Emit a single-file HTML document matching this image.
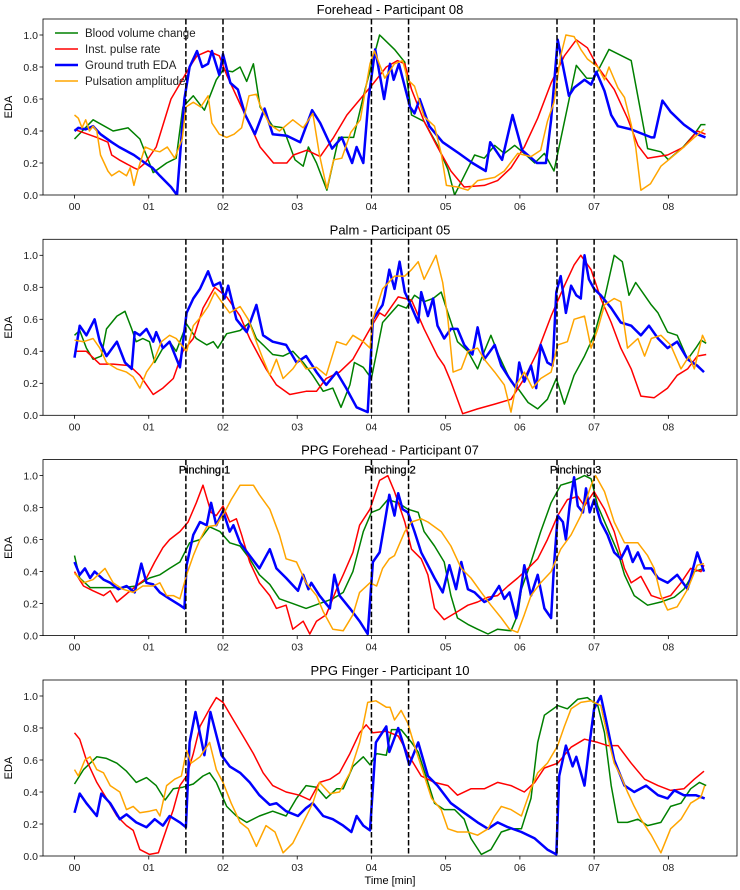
<!DOCTYPE html>
<html><head><meta charset="utf-8">
<style>
body{margin:0;background:#fff;}
svg{display:block;font-family:"Liberation Sans","DejaVu Sans",sans-serif;}
</style></head>
<body>
<svg id="fig" width="740" height="890" viewBox="0 0 740 890" xmlns="http://www.w3.org/2000/svg"></svg>
<script>
// ---------- Data (time in minutes, normalized EDA values) ----------
const xTicks = [0,1,2,3,4,5,6,7,8];
const xTickLabels = ["00","01","02","03","04","05","06","07","08"];
const yTicks = [0,0.2,0.4,0.6,0.8,1.0];
const yTickLabels = ["0.0","0.2","0.4","0.6","0.8","1.0"];
const pinchLines = [1.5,2,4,4.5,6.5,7];
const pinchLabelTimes = [1.75,4.25,6.75];
const pinchLabels = ["Pinching 1","Pinching 2","Pinching 3"];
const panelTitles = ["Forehead - Participant 08","Palm - Participant 05","PPG Forehead - Participant 07","PPG Finger - Participant 10"];
const seriesNames = ["Blood volume change","Inst. pulse rate","Ground truth EDA","Pulsation amplitude"];

// Panel 1
const p1GreenT=[0,0.25,0.52,0.72,0.88,1.06,1.24,1.37,1.46,1.6,1.75,1.91,2.0,2.13,2.23,2.32,2.41,2.5,2.67,2.81,2.97,3.08,3.15,3.26,3.4,3.56,3.76,3.92,4.11,4.31,4.45,4.54,4.71,4.89,5.03,5.12,5.25,5.39,5.52,5.66,5.79,5.93,6.06,6.2,6.33,6.46,6.76,6.9,7.0,7.2,7.5,7.72,7.9,8.0,8.2,8.35,8.44,8.5];
const p1GreenV=[0.35,0.47,0.40,0.42,0.35,0.14,0.20,0.23,0.55,0.62,0.53,0.72,0.78,0.77,0.80,0.71,0.82,0.55,0.43,0.42,0.22,0.18,0.30,0.20,0.03,0.36,0.36,0.67,1.0,0.91,0.83,0.5,0.46,0.31,0.16,0.0,0.12,0.25,0.23,0.31,0.26,0.31,0.26,0.2,0.26,0.15,0.81,0.73,0.73,0.91,0.84,0.29,0.27,0.22,0.3,0.38,0.44,0.44];
const p1RedT=[0,0.3,0.45,0.5,0.6,0.8,0.85,0.95,1.1,1.2,1.3,1.4,1.55,1.65,1.8,1.95,2.05,2.2,2.35,2.5,2.59,2.68,2.86,2.95,3.13,3.31,3.49,3.67,3.85,4.03,4.2,4.35,4.45,4.54,4.71,4.89,5.07,5.25,5.52,5.7,5.88,6.06,6.24,6.42,6.6,6.76,6.91,7.05,7.27,7.45,7.59,7.72,7.99,8.21,8.39,8.5];
const p1RedV=[0.41,0.36,0.33,0.25,0.22,0.17,0.16,0.2,0.3,0.45,0.6,0.68,0.8,0.87,0.9,0.87,0.75,0.6,0.45,0.3,0.25,0.2,0.2,0.25,0.28,0.24,0.36,0.5,0.6,0.7,0.8,0.84,0.82,0.66,0.46,0.3,0.15,0.05,0.06,0.09,0.17,0.3,0.48,0.7,0.87,0.97,0.92,0.8,0.66,0.48,0.31,0.23,0.25,0.3,0.4,0.38];
const p1BlueT=[0,0.05,0.15,0.25,0.35,0.5,0.6,0.8,0.95,1.05,1.15,1.3,1.38,1.48,1.55,1.65,1.72,1.8,1.85,1.95,2.0,2.1,2.2,2.3,2.43,2.56,2.67,2.86,3.04,3.2,3.31,3.47,3.6,3.74,3.8,3.89,3.96,4.05,4.17,4.25,4.3,4.37,4.52,4.58,4.65,4.78,4.96,5.18,5.36,5.54,5.6,5.76,5.9,6.03,6.23,6.35,6.42,6.51,6.66,6.73,6.87,6.96,7.03,7.14,7.23,7.32,7.5,7.77,7.81,7.92,8.03,8.21,8.39,8.5];
const p1BlueV=[0.40,0.42,0.41,0.43,0.38,0.33,0.30,0.25,0.2,0.17,0.12,0.05,0.0,0.6,0.8,0.9,0.8,0.82,0.9,0.75,0.88,0.7,0.66,0.5,0.38,0.54,0.38,0.37,0.33,0.53,0.45,0.29,0.36,0.2,0.3,0.2,0.6,0.91,0.6,0.82,0.72,0.82,0.55,0.51,0.6,0.43,0.33,0.26,0.2,0.15,0.33,0.22,0.5,0.28,0.2,0.2,0.47,0.97,0.62,0.67,0.72,0.69,0.77,0.65,0.5,0.43,0.41,0.36,0.36,0.59,0.52,0.44,0.38,0.36];
const p1OrangeT=[0,0.05,0.1,0.15,0.2,0.25,0.3,0.35,0.45,0.5,0.6,0.7,0.75,0.8,0.85,0.95,1.05,1.15,1.25,1.35,1.45,1.5,1.6,1.7,1.8,1.85,1.95,2.05,2.15,2.25,2.35,2.45,2.5,2.63,2.76,2.94,3.08,3.21,3.3,3.4,3.49,3.6,3.72,3.85,3.98,4.04,4.18,4.31,4.42,4.49,4.58,4.71,4.85,4.94,5.01,5.16,5.3,5.43,5.66,5.79,5.97,6.15,6.28,6.37,6.46,6.55,6.62,6.73,6.82,6.91,7.05,7.14,7.2,7.32,7.41,7.5,7.56,7.63,7.76,7.9,8.03,8.21,8.35,8.48];
const p1OrangeV=[0.5,0.48,0.42,0.47,0.4,0.43,0.4,0.25,0.15,0.12,0.15,0.12,0.17,0.06,0.15,0.3,0.28,0.27,0.3,0.23,0.35,0.55,0.58,0.55,0.62,0.45,0.38,0.36,0.38,0.42,0.62,0.63,0.56,0.44,0.4,0.47,0.42,0.51,0.25,0.04,0.22,0.23,0.39,0.47,0.82,0.9,0.73,0.82,0.84,0.72,0.68,0.49,0.43,0.26,0.06,0.05,0.03,0.09,0.11,0.15,0.26,0.24,0.28,0.46,0.58,0.87,1.0,0.99,0.91,0.85,0.8,0.72,0.8,0.67,0.61,0.44,0.3,0.03,0.07,0.18,0.23,0.3,0.36,0.41];

// Panel 2
const p2GreenT=[0,0.07,0.16,0.25,0.36,0.43,0.57,0.68,0.77,0.83,0.92,1.01,1.08,1.19,1.28,1.37,1.51,1.64,1.78,1.87,1.93,2.05,2.23,2.36,2.45,2.54,2.67,2.81,2.94,3.08,3.21,3.35,3.48,3.59,3.71,3.77,3.89,4.0,4.15,4.36,4.47,4.58,4.71,4.83,4.94,5.03,5.16,5.3,5.43,5.52,5.61,5.72,5.88,5.97,6.11,6.24,6.37,6.49,6.6,6.73,6.87,7.0,7.14,7.27,7.38,7.47,7.56,7.68,7.77,7.86,7.99,8.12,8.26,8.37,8.44,8.51];
const p2GreenV=[0.5,0.53,0.42,0.35,0.37,0.54,0.62,0.65,0.54,0.46,0.48,0.46,0.33,0.42,0.46,0.4,0.57,0.48,0.44,0.46,0.42,0.51,0.53,0.58,0.48,0.44,0.38,0.37,0.4,0.33,0.25,0.15,0.17,0.05,0.19,0.33,0.3,0.23,0.58,0.69,0.67,0.75,0.71,0.73,0.77,0.64,0.46,0.4,0.29,0.4,0.5,0.37,0.21,0.17,0.08,0.04,0.1,0.23,0.07,0.25,0.37,0.5,0.73,1.0,0.96,0.75,0.83,0.75,0.69,0.64,0.52,0.5,0.35,0.42,0.47,0.45];
const p2RedT=[0,0.16,0.34,0.52,0.74,0.88,1.06,1.19,1.33,1.46,1.6,1.73,1.89,2.05,2.23,2.36,2.58,2.72,2.9,3.12,3.26,3.39,3.57,3.75,3.98,4.11,4.18,4.36,4.54,4.71,4.89,4.98,5.07,5.23,5.43,5.66,5.88,6.06,6.24,6.42,6.6,6.73,6.82,6.96,7.09,7.23,7.36,7.5,7.63,7.81,7.99,8.12,8.26,8.39,8.51];
const p2RedV=[0.4,0.4,0.32,0.32,0.31,0.25,0.13,0.17,0.23,0.4,0.48,0.67,0.8,0.74,0.62,0.48,0.29,0.19,0.13,0.15,0.15,0.23,0.27,0.35,0.54,0.64,0.62,0.74,0.72,0.54,0.37,0.31,0.21,0.01,0.04,0.07,0.1,0.23,0.4,0.62,0.81,0.94,1.0,0.91,0.73,0.58,0.42,0.29,0.12,0.11,0.17,0.25,0.29,0.37,0.38];
const p2BlueT=[0,0.07,0.16,0.27,0.34,0.43,0.57,0.68,0.77,0.81,0.88,0.97,1.06,1.1,1.19,1.28,1.42,1.51,1.6,1.69,1.8,1.87,1.96,2.02,2.07,2.18,2.32,2.45,2.54,2.67,2.85,2.99,3.12,3.26,3.39,3.53,3.66,3.8,3.95,4.02,4.15,4.18,4.24,4.31,4.38,4.45,4.51,4.63,4.67,4.76,4.83,4.89,4.98,5.07,5.16,5.25,5.36,5.43,5.52,5.66,5.75,5.86,5.95,5.99,6.06,6.15,6.22,6.28,6.37,6.44,6.49,6.55,6.62,6.69,6.76,6.82,6.87,6.93,7.0,7.09,7.23,7.36,7.5,7.63,7.74,7.86,7.99,8.12,8.26,8.39,8.48];
const p2BlueV=[0.36,0.56,0.5,0.6,0.46,0.37,0.46,0.33,0.29,0.52,0.5,0.54,0.46,0.52,0.42,0.46,0.3,0.64,0.73,0.79,0.9,0.81,0.83,0.73,0.81,0.6,0.52,0.69,0.5,0.46,0.44,0.33,0.37,0.27,0.19,0.27,0.17,0.05,0.02,0.6,0.69,0.75,0.91,0.79,0.96,0.77,0.71,0.58,0.77,0.62,0.73,0.56,0.48,0.54,0.54,0.44,0.38,0.55,0.35,0.44,0.31,0.23,0.17,0.33,0.21,0.31,0.17,0.44,0.33,0.31,0.77,0.87,0.64,0.81,0.75,0.73,1.0,0.85,0.79,0.75,0.67,0.58,0.56,0.5,0.56,0.48,0.42,0.46,0.35,0.31,0.27];
const p2OrangeT=[0,0.12,0.25,0.34,0.43,0.57,0.7,0.79,0.88,0.97,1.06,1.17,1.28,1.37,1.51,1.6,1.71,1.8,1.89,1.98,2.09,2.23,2.34,2.45,2.54,2.63,2.72,2.81,2.94,3.03,3.12,3.26,3.39,3.53,3.66,3.75,3.89,3.98,4.02,4.15,4.31,4.45,4.54,4.63,4.71,4.87,4.96,5.03,5.1,5.21,5.3,5.43,5.52,5.66,5.79,5.88,5.95,6.06,6.17,6.28,6.42,6.51,6.64,6.73,6.87,6.96,7.05,7.14,7.27,7.36,7.45,7.59,7.68,7.77,7.9,8.03,8.17,8.28,8.35,8.46,8.5];
const p2OrangeV=[0.47,0.46,0.48,0.42,0.33,0.29,0.27,0.24,0.17,0.27,0.33,0.46,0.5,0.48,0.4,0.56,0.62,0.68,0.77,0.71,0.64,0.68,0.6,0.46,0.35,0.25,0.35,0.23,0.29,0.35,0.29,0.3,0.25,0.46,0.44,0.5,0.46,0.42,0.6,0.79,0.87,0.87,0.91,0.96,0.85,1.0,0.83,0.6,0.27,0.29,0.4,0.42,0.35,0.27,0.19,0.02,0.19,0.27,0.17,0.23,0.27,0.44,0.46,0.6,0.62,0.42,0.54,0.69,0.73,0.71,0.42,0.48,0.37,0.48,0.5,0.44,0.29,0.37,0.29,0.5,0.46];

// Panel 3
const p3GreenT=[0,0.07,0.21,0.43,0.65,0.83,1.01,1.15,1.28,1.42,1.55,1.69,1.82,1.96,2.09,2.23,2.36,2.49,2.63,2.76,2.94,3.12,3.3,3.48,3.62,3.75,3.89,4.0,4.11,4.22,4.36,4.49,4.63,4.71,4.85,4.98,5.07,5.16,5.3,5.43,5.57,5.7,5.88,5.97,6.02,6.15,6.28,6.42,6.55,6.69,6.87,6.96,7.05,7.18,7.32,7.41,7.54,7.72,7.9,8.08,8.21,8.35,8.48];
const p3GreenV=[0.5,0.36,0.3,0.3,0.3,0.31,0.36,0.38,0.42,0.46,0.58,0.6,0.68,0.65,0.58,0.56,0.48,0.38,0.32,0.23,0.2,0.17,0.2,0.23,0.27,0.4,0.65,0.77,0.79,0.85,0.83,0.79,0.77,0.65,0.56,0.46,0.25,0.11,0.07,0.04,0.01,0.04,0.03,0.13,0.29,0.46,0.65,0.83,0.94,0.96,1.0,0.98,0.81,0.67,0.52,0.38,0.25,0.19,0.21,0.24,0.29,0.4,0.42];
const p3RedT=[0,0.12,0.25,0.39,0.48,0.57,0.7,0.83,0.97,1.08,1.19,1.28,1.42,1.53,1.64,1.73,1.84,1.91,2.0,2.09,2.18,2.25,2.36,2.49,2.63,2.72,2.85,2.94,3.08,3.17,3.26,3.39,3.53,3.62,3.75,3.84,3.98,4.11,4.22,4.31,4.45,4.54,4.67,4.76,4.85,4.98,5.16,5.3,5.43,5.57,5.7,5.84,5.97,6.11,6.24,6.37,6.51,6.64,6.78,6.87,7.0,7.14,7.27,7.41,7.5,7.63,7.77,7.9,8.03,8.17,8.3,8.44,8.48];
const p3RedV=[0.4,0.31,0.28,0.25,0.28,0.21,0.26,0.31,0.36,0.46,0.55,0.6,0.65,0.71,0.83,0.94,0.77,0.75,0.81,0.71,0.73,0.63,0.46,0.33,0.25,0.17,0.19,0.04,0.09,0.01,0.09,0.13,0.29,0.38,0.52,0.69,0.79,0.97,1.0,0.9,0.71,0.54,0.48,0.38,0.17,0.1,0.15,0.19,0.21,0.24,0.25,0.31,0.36,0.42,0.48,0.6,0.75,0.85,0.87,0.81,0.9,0.79,0.65,0.42,0.33,0.37,0.25,0.23,0.25,0.33,0.42,0.4,0.44];
const p3BlueT=[0,0.07,0.14,0.21,0.27,0.39,0.48,0.59,0.7,0.81,0.9,0.97,1.06,1.15,1.28,1.42,1.48,1.51,1.6,1.69,1.78,1.84,1.91,2.0,2.09,2.14,2.23,2.36,2.49,2.63,2.72,2.85,3.01,3.08,3.15,3.19,3.3,3.44,3.5,3.57,3.71,3.84,3.95,4.02,4.11,4.18,4.24,4.31,4.36,4.42,4.49,4.58,4.67,4.76,4.85,4.96,5.05,5.14,5.21,5.3,5.39,5.52,5.61,5.72,5.79,5.86,5.95,6.02,6.06,6.15,6.24,6.33,6.42,6.46,6.51,6.58,6.62,6.67,6.73,6.78,6.85,6.89,6.94,7.0,7.09,7.18,7.27,7.36,7.45,7.52,7.59,7.68,7.77,7.86,7.99,8.12,8.26,8.39,8.48];
const p3BlueV=[0.46,0.38,0.42,0.36,0.4,0.35,0.33,0.29,0.31,0.27,0.45,0.33,0.32,0.27,0.23,0.19,0.17,0.44,0.63,0.71,0.69,0.83,0.69,0.78,0.65,0.69,0.58,0.5,0.42,0.54,0.42,0.36,0.28,0.38,0.29,0.33,0.25,0.17,0.38,0.25,0.17,0.09,0.01,0.46,0.52,0.71,0.88,0.75,0.89,0.79,0.77,0.65,0.52,0.44,0.36,0.27,0.44,0.29,0.46,0.29,0.27,0.21,0.23,0.31,0.23,0.27,0.11,0.31,0.44,0.25,0.38,0.17,0.11,0.44,0.75,0.71,0.6,0.81,0.99,0.81,0.77,0.92,0.77,0.85,0.71,0.63,0.52,0.48,0.56,0.46,0.52,0.42,0.42,0.36,0.33,0.38,0.29,0.52,0.4];
const p3OrangeT=[0,0.12,0.25,0.41,0.52,0.65,0.79,0.92,1.06,1.15,1.24,1.33,1.42,1.51,1.6,1.69,1.78,1.91,2.02,2.11,2.23,2.41,2.49,2.63,2.76,2.85,2.99,3.12,3.26,3.35,3.48,3.62,3.75,3.84,3.98,4.07,4.15,4.24,4.31,4.45,4.54,4.67,4.76,4.94,5.07,5.21,5.34,5.48,5.61,5.75,5.86,5.97,6.06,6.15,6.28,6.42,6.55,6.69,6.82,6.96,7.02,7.14,7.27,7.41,7.59,7.72,7.81,7.9,7.99,8.12,8.26,8.39,8.48];
const p3OrangeV=[0.39,0.33,0.35,0.42,0.33,0.29,0.27,0.31,0.31,0.33,0.25,0.25,0.23,0.38,0.5,0.6,0.68,0.69,0.77,0.85,0.94,0.94,0.88,0.79,0.63,0.48,0.46,0.33,0.25,0.15,0.04,0.03,0.13,0.27,0.33,0.31,0.42,0.48,0.5,0.65,0.71,0.73,0.71,0.65,0.56,0.42,0.36,0.27,0.19,0.11,0.04,0.02,0.13,0.25,0.33,0.4,0.54,0.63,0.75,0.94,1.0,0.9,0.71,0.58,0.58,0.5,0.42,0.25,0.16,0.18,0.29,0.44,0.45];

// Panel 4
const p4GreenT=[0,0.12,0.3,0.43,0.57,0.7,0.83,0.97,1.1,1.22,1.33,1.46,1.6,1.73,1.82,1.91,2.05,2.18,2.32,2.49,2.67,2.85,2.99,3.12,3.26,3.39,3.53,3.62,3.75,3.89,3.98,4.07,4.2,4.27,4.4,4.54,4.63,4.76,4.85,4.98,5.12,5.25,5.34,5.48,5.61,5.75,5.88,6.02,6.15,6.24,6.33,6.51,6.64,6.78,6.91,7.05,7.14,7.23,7.32,7.45,7.59,7.72,7.9,8.03,8.17,8.3,8.42,8.51];
const p4GreenV=[0.45,0.54,0.62,0.61,0.58,0.53,0.46,0.49,0.44,0.35,0.42,0.43,0.45,0.5,0.52,0.46,0.31,0.25,0.21,0.25,0.28,0.25,0.36,0.44,0.43,0.36,0.42,0.42,0.56,0.62,0.57,0.64,0.63,0.79,0.79,0.71,0.65,0.46,0.33,0.29,0.29,0.23,0.11,0.01,0.04,0.15,0.17,0.17,0.36,0.71,0.88,0.94,0.92,0.98,0.99,0.94,0.77,0.44,0.21,0.21,0.23,0.19,0.21,0.31,0.33,0.42,0.46,0.44];
const p4RedT=[0,0.07,0.16,0.3,0.43,0.57,0.7,0.79,0.88,1.01,1.13,1.24,1.33,1.42,1.51,1.6,1.69,1.82,1.91,2.0,2.14,2.27,2.41,2.54,2.67,2.85,3.03,3.17,3.3,3.44,3.57,3.71,3.84,3.93,4.02,4.2,4.36,4.54,4.67,4.85,5.03,5.16,5.34,5.52,5.7,5.88,6.06,6.2,6.33,6.51,6.69,6.87,7.05,7.18,7.32,7.5,7.68,7.86,8.03,8.21,8.35,8.48];
const p4RedV=[0.77,0.73,0.6,0.46,0.36,0.25,0.19,0.16,0.04,0.01,0.02,0.17,0.29,0.44,0.5,0.64,0.81,0.92,0.99,0.96,0.85,0.75,0.64,0.52,0.44,0.4,0.38,0.35,0.46,0.48,0.52,0.64,0.77,0.82,0.77,0.78,0.75,0.6,0.5,0.46,0.44,0.38,0.42,0.42,0.46,0.44,0.4,0.46,0.55,0.58,0.68,0.73,0.71,0.69,0.69,0.58,0.48,0.44,0.41,0.42,0.48,0.53];
const p4BlueT=[0,0.07,0.16,0.3,0.36,0.48,0.61,0.7,0.83,0.97,1.08,1.19,1.28,1.42,1.5,1.55,1.63,1.75,1.83,1.98,2.09,2.23,2.36,2.49,2.63,2.72,2.85,3.01,3.12,3.21,3.35,3.48,3.62,3.73,3.8,3.89,3.98,4.06,4.2,4.24,4.36,4.45,4.51,4.63,4.76,4.89,5.07,5.25,5.43,5.57,5.7,5.84,6.02,6.2,6.37,6.49,6.53,6.62,6.71,6.76,6.87,6.94,7.0,7.09,7.16,7.27,7.41,7.54,7.7,7.86,7.99,8.08,8.21,8.37,8.49];
const p4BlueV=[0.27,0.39,0.33,0.25,0.39,0.33,0.23,0.26,0.21,0.18,0.23,0.19,0.25,0.21,0.18,0.71,0.9,0.63,0.9,0.63,0.56,0.52,0.46,0.38,0.32,0.33,0.28,0.25,0.3,0.33,0.25,0.23,0.19,0.15,0.25,0.19,0.16,0.71,0.81,0.65,0.8,0.67,0.57,0.71,0.5,0.44,0.33,0.27,0.21,0.17,0.21,0.18,0.15,0.11,0.04,0.01,0.5,0.69,0.56,0.62,0.44,0.71,0.92,1.0,0.85,0.6,0.44,0.4,0.44,0.38,0.36,0.41,0.38,0.38,0.36];
const p4OrangeT=[0,0.05,0.14,0.21,0.3,0.39,0.48,0.61,0.7,0.79,0.88,1.01,1.1,1.15,1.24,1.35,1.44,1.51,1.57,1.69,1.82,1.91,2.0,2.11,2.23,2.34,2.45,2.58,2.7,2.81,2.94,3.08,3.21,3.3,3.44,3.57,3.71,3.84,3.95,4.06,4.2,4.25,4.31,4.4,4.49,4.58,4.67,4.81,4.94,5.03,5.16,5.3,5.43,5.57,5.66,5.75,5.88,6.02,6.15,6.24,6.37,6.51,6.6,6.69,6.82,6.96,7.09,7.18,7.27,7.36,7.45,7.54,7.63,7.77,7.9,8.03,8.17,8.3,8.44,8.49];
const p4OrangeV=[0.54,0.5,0.6,0.62,0.54,0.52,0.44,0.4,0.29,0.31,0.27,0.28,0.29,0.25,0.44,0.48,0.5,0.66,0.58,0.62,0.71,0.54,0.46,0.33,0.21,0.17,0.06,0.19,0.15,0.02,0.08,0.21,0.33,0.46,0.39,0.4,0.52,0.71,0.96,0.97,0.93,0.93,0.85,0.91,0.83,0.69,0.56,0.36,0.29,0.17,0.15,0.15,0.13,0.17,0.25,0.31,0.29,0.25,0.42,0.52,0.58,0.69,0.81,0.92,0.96,0.97,0.94,0.75,0.58,0.5,0.4,0.31,0.23,0.13,0.02,0.17,0.23,0.33,0.37,0.44];

const panels = [
  {green:[p1GreenT,p1GreenV],red:[p1RedT,p1RedV],blue:[p1BlueT,p1BlueV],orange:[p1OrangeT,p1OrangeV]},
  {green:[p2GreenT,p2GreenV],red:[p2RedT,p2RedV],blue:[p2BlueT,p2BlueV],orange:[p2OrangeT,p2OrangeV]},
  {green:[p3GreenT,p3GreenV],red:[p3RedT,p3RedV],blue:[p3BlueT,p3BlueV],orange:[p3OrangeT,p3OrangeV]},
  {green:[p4GreenT,p4GreenV],red:[p4RedT,p4RedV],blue:[p4BlueT,p4BlueV],orange:[p4OrangeT,p4OrangeV]}
];

// ---------- Layout ----------
const NS="http://www.w3.org/2000/svg";
const svg=document.getElementById('fig');
const axLeft=43, axRight=737, axH=176;
const axTops=[19,239.3,459.6,680];
const xMin=-0.425, xMax=8.925, yMin=0, yMax=1.1;
function xs(t){return axLeft+(t-xMin)/(xMax-xMin)*(axRight-axLeft);}
function ys(v,top){return top+axH-(v-yMin)/(yMax-yMin)*axH;}
function mk(tag,attrs,parent){const e=document.createElementNS(NS,tag);for(const k in attrs)e.setAttribute(k,attrs[k]);(parent||svg).appendChild(e);return e;}

const colors={green:"#008000",red:"#ff0000",blue:"#0000ff",orange:"#ffa500"};
const widths={green:1.5,red:1.5,blue:2.5,orange:1.5};
const keys=["green","red","blue","orange"];
const serieSlug={green:"blood-volume-change-line",red:"inst-pulse-rate-line",blue:"ground-truth-eda-line",orange:"pulsation-amplitude-line"};

panels.forEach((p,i)=>{
  const top=axTops[i], bot=top+axH;
  const g=mk('g',{});
  
  
  const clipId='clip'+i;
  const cp=mk('clipPath',{id:clipId},g);
  mk('rect',{x:axLeft,y:top,width:axRight-axLeft,height:axH},cp);
  const ti=mk('text',{x:(axLeft+axRight)/2,y:top-5,'text-anchor':'middle','font-size':'13',fill:'#000'},g);
  ti.textContent=panelTitles[i];
  
  
  const yl=mk('text',{x:0,y:0,'text-anchor':'middle','font-size':'11',fill:'#000',transform:`translate(12,${top+axH/2}) rotate(-90)`},g);
  yl.textContent='EDA';
  
  
  yTicks.forEach((v,k)=>{
    const y=ys(v,top);
    mk('line',{x1:axLeft-3.5,x2:axLeft,y1:y,y2:y,stroke:'#000','stroke-width':0.8},g);
    const t=mk('text',{x:axLeft-5,y:y+3.8,'text-anchor':'end','font-size':'10.5',fill:'#222'},g);
    t.textContent=yTickLabels[k];
    
    
  });
  xTicks.forEach((tv,k)=>{
    const x=xs(tv);
    mk('line',{x1:x,x2:x,y1:bot,y2:bot+3.5,stroke:'#000','stroke-width':0.8},g);
    const t=mk('text',{x:x,y:bot+15,'text-anchor':'middle','font-size':'10.5',fill:'#222'},g);
    t.textContent=xTickLabels[k];
    
    
  });
  const sg=mk('g',{'clip-path':`url(#${clipId})`},g);
  keys.forEach(key=>{
    const [T,V]=p[key];
    const pts=T.map((t,j)=>xs(t).toFixed(1)+','+ys(V[j],top).toFixed(1)).join(' ');
    const pl=mk('polyline',{points:pts,fill:'none',stroke:colors[key],'stroke-width':widths[key],'stroke-linejoin':'round'},sg);
    
    
  });
  pinchLines.forEach(t=>{
    const l=mk('line',{x1:xs(t),x2:xs(t),y1:top,y2:bot,stroke:'#000','stroke-width':1.5,'stroke-dasharray':'5.5,2.5'},g);
    
    
  });
  if(i===2){
    pinchLabelTimes.forEach((t,k)=>{
      const tx=mk('text',{x:xs(t),y:top+14,'text-anchor':'middle','font-size':'11',fill:'#000',stroke:'#000','stroke-width':0.25},g);
      tx.textContent=pinchLabels[k];
      
      
    });
  }
  const fr=mk('rect',{x:axLeft,y:top,width:axRight-axLeft,height:axH,fill:'none',stroke:'#000','stroke-width':0.8},g);
  
  
  if(i===0){
    const lg=mk('g',{},g);
    
    
    keys.forEach((key,k)=>{
      const y=top+14+k*16;
      const e=mk('g',{},lg);
      
      
      mk('line',{x1:55,x2:78,y1:y,y2:y,stroke:colors[key],'stroke-width':widths[key]===2.5?2.5:1.5},e);
      const t=mk('text',{x:85,y:y+4,'font-size':'11.5',fill:'#222'},e);
      t.textContent=seriesNames[k];
    });
  }
});
const xl=mk('text',{x:(axLeft+axRight)/2,y:884,'text-anchor':'middle','font-size':'11',fill:'#000'});
xl.textContent='Time [min]';


</script>
</body></html>
